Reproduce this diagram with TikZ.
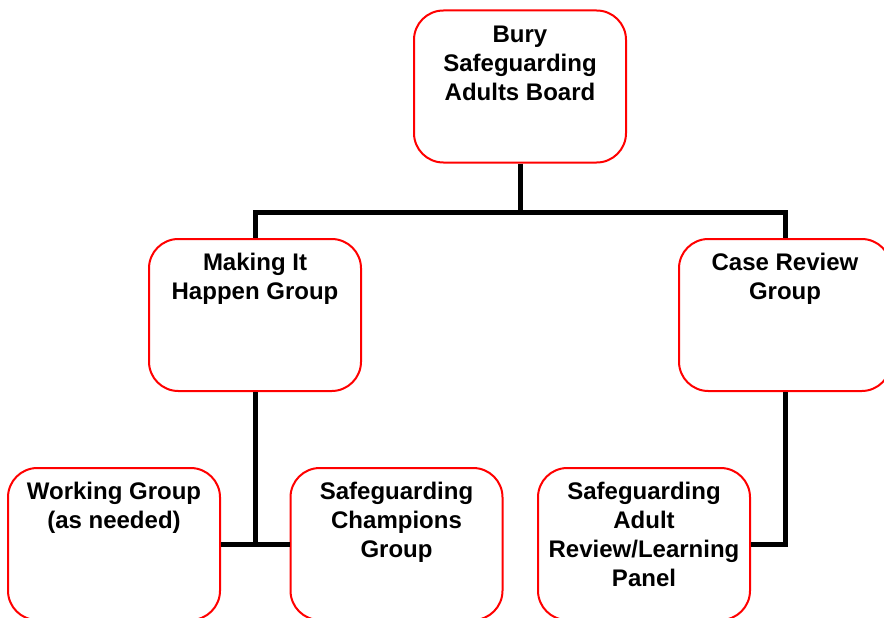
\documentclass[tikz,border=0pt]{standalone}
\usepackage{fontspec}
\setmainfont{Liberation Sans}
\usetikzlibrary{positioning}

\tikzset{
  box/.style={draw=red, line width=1.5pt, rounded corners=22pt,
    minimum width=159pt, minimum height=114pt, fill=white},
  txt/.style={anchor=base, align=center, inner sep=0pt,
    font=\bfseries\fontsize{18}{21.75}\selectfont},
  conn/.style={line width=3.75pt, line join=miter}
}

\begin{document}
\begin{tikzpicture}[x=0.75pt, y=-0.75pt]
    \path[use as bounding box, clip] (0, 0) rectangle (884, 617);
    \fill[white] (0, 0) rectangle (884, 617);
    \node[box] (bury) at (520, 86.5) {};
    \node[box] (make) at (255, 315) {};
    \node[box] (case) at (785, 315) {};
    \node[box] (work) at (114, 544) {};
    \node[box] (champ) at (396.5, 544) {};
    \node[box] (sar) at (644, 544) {};
    \coordinate (bus) at (520, 212);
    \draw[conn] (bury.south) -- (bus);
    \draw[conn] (bus) -| (make.north);
    \draw[conn] (bus) -| (case.north);
    \draw[conn] (make.south) |- (work.east);
    \draw[conn] (make.south) |- (champ.west);
    \draw[conn] (case.south) |- (sar.east);
    % base anchor sits on the last line
    \node[txt] (buryt) at ([yshift=-68pt]bury.north) {Bury\\Safeguarding\\Adults Board};
    \node[txt] (maket) at ([yshift=-45.75pt]make.north) {Making It\\Happen Group};
    \node[txt] (caset) at ([yshift=-45.75pt]case.north) {Case Review\\Group};
    \node[txt] (workt) at ([yshift=-45.75pt]work.north) {Working Group\\(as needed)};
    \node[txt] (champt) at ([yshift=-67.5pt]champ.north) {Safeguarding\\Champions\\Group};
    \node[txt] (sart) at ([yshift=-89.25pt]sar.north) {Safeguarding\\Adult\\Review/Learning\\Panel};
  \end{tikzpicture}
\end{document}
